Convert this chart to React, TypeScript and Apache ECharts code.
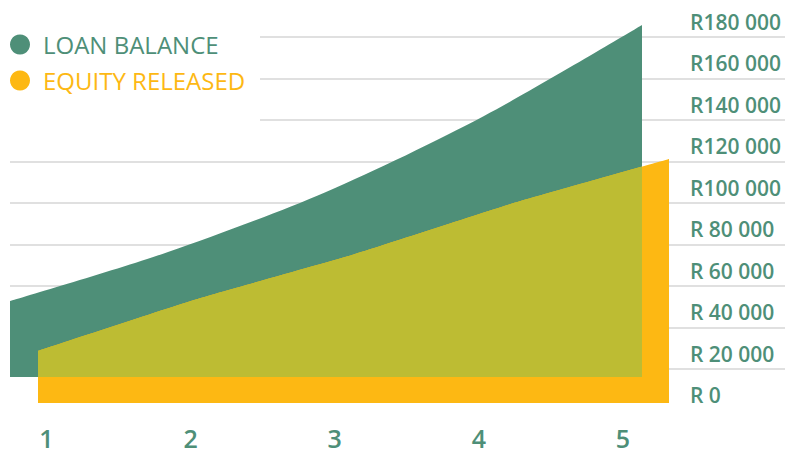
import React, { useEffect, useRef } from "react";
import * as echarts from "echarts";

const years = ["1", "2", "3", "4", "5"];
const loanBalance = [36600, 60200, 89200, 125800, 169600];
const equityReleased = [25100, 49900, 71600, 96000, 117600];
const yTickValues = [0, 20000, 40000, 60000, 80000, 100000, 120000, 140000, 160000, 180000];
const yTickLabels = ["R 0", "R 20 000", "R 40 000", "R 60 000", "R 80 000", "R100 000", "R120 000", "R140 000", "R160 000", "R180 000"];

const GREEN = "#4E8F78";
const YELLOW = "#FDB813";
const OLIVE = "#BDBC33";
const FONT = "Open Sans";

export default function App() {
  const ref = useRef<HTMLDivElement>(null);
  useEffect(() => {
    if (!ref.current) return;
    const chart = echarts.init(ref.current, null, { renderer: "svg" });
    const yMax = 180000;
    const plotH = 373.5;
    const oliveW = 604;
    const yellowW = 631;
    const oliveH = 347.5;
    const oliveMin = yMax * (1 - oliveH / plotH);
    const xPairs = (vals: number[]) => vals.map((v, i) => [Number(years[i]), v]);

    const hiddenX = (gi: number, min = 1, max = 5) => ({ type: "value", gridIndex: gi, min, max, show: false });
    const hiddenY = (gi: number, min: number, max: number) => ({ type: "value", gridIndex: gi, min, max, show: false });

    chart.setOption({
      animation: false,
      grid: [
        { left: 10, top: 377 - plotH, width: 632, height: plotH }, // 0 green
        { left: 38, top: 403 - plotH, width: yellowW, height: plotH }, // 1 yellow
        { left: 38, top: 403 - plotH, width: oliveW, height: oliveH }, // 2 olive overlap
        { left: 600, top: 395 - plotH, width: 90, height: plotH }, // 3 labels
        { left: 10, top: 369 - 207.5, width: 775, height: 207.5 }, // 4 lower gridlines
        { left: 260, top: 37, width: 525, height: 83 }, // 5 upper gridlines
        { left: 46.5, top: 300, width: 576.5, height: 110 }, // 6 x labels
      ],
      xAxis: [
        hiddenX(0),
        hiddenX(1),
        hiddenX(2, 1, 1 + (4 * oliveW) / yellowW),
        { type: "value", gridIndex: 3, show: false },
        { type: "value", gridIndex: 4, show: false },
        { type: "value", gridIndex: 5, show: false },
        {
          type: "category",
          gridIndex: 6,
          data: years,
          boundaryGap: false,
          axisLine: { show: false },
          axisTick: { show: false },
          splitLine: { show: false },
          axisLabel: {
            color: GREEN,
            fontFamily: FONT,
            fontSize: 25,
            fontWeight: 600,
            lineHeight: 25,
            margin: 15.5,
          },
        },
      ],
      yAxis: [
        hiddenY(0, 0, yMax),
        hiddenY(1, 0, yMax),
        hiddenY(2, oliveMin, yMax),
        {
          type: "value",
          gridIndex: 3,
          position: "right",
          min: 0,
          max: yMax,
          interval: 20000,
          axisLine: { show: false },
          axisTick: { show: false },
          splitLine: { show: false },
          axisLabel: {
            margin: 0,
            align: "left",
            color: GREEN,
            fontFamily: FONT,
            fontSize: 21,
            fontWeight: 600,
            formatter: (v: number) => yTickLabels[yTickValues.indexOf(v)] ?? "",
          },
        },
        {
          type: "value",
          gridIndex: 4,
          min: 0,
          max: 100000,
          interval: 20000,
          axisLine: { show: false },
          axisTick: { show: false },
          axisLabel: { show: false },
          splitLine: { show: true, lineStyle: { color: "#D6D6D6", width: 1.5 } },
        },
        {
          type: "value",
          gridIndex: 5,
          min: 120000,
          max: 160000,
          interval: 20000,
          axisLine: { show: false },
          axisTick: { show: false },
          axisLabel: { show: false },
          splitLine: { show: true, lineStyle: { color: "#D6D6D6", width: 1.5 } },
        },
        { type: "value", gridIndex: 6, show: false },
      ],
      legend: {
        left: 10,
        top: 32.5,
        padding: 0,
        orient: "vertical",
        itemWidth: 20,
        itemHeight: 20,
        itemGap: 12,
        icon: "circle",
        selectedMode: false,
        textStyle: { fontFamily: FONT, fontSize: 24, lineHeight: 20, padding: [0, 0, 0, 8] },
        data: [
          { name: "LOAN BALANCE", textStyle: { color: GREEN } },
          { name: "EQUITY RELEASED", textStyle: { color: YELLOW } },
        ],
      },
      series: [
        {
          name: "LOAN BALANCE",
          type: "line",
          xAxisIndex: 0,
          yAxisIndex: 0,
          data: xPairs(loanBalance),
          smooth: 0.3,
          showSymbol: false,
          color: GREEN,
          lineStyle: { width: 0 },
          areaStyle: { color: GREEN, opacity: 1, origin: "start" },
          z: 2,
        },
        {
          name: "EQUITY RELEASED",
          type: "line",
          xAxisIndex: 1,
          yAxisIndex: 1,
          data: xPairs(equityReleased),
          smooth: 0.15,
          showSymbol: false,
          color: YELLOW,
          lineStyle: { width: 0 },
          areaStyle: { color: YELLOW, opacity: 1, origin: "start" },
          z: 3,
        },
        {
          name: "overlap",
          type: "line",
          xAxisIndex: 2,
          yAxisIndex: 2,
          data: xPairs(equityReleased),
          smooth: 0.15,
          showSymbol: false,
          clip: true,
          color: OLIVE,
          lineStyle: { width: 0 },
          areaStyle: { color: OLIVE, opacity: 1, origin: "start" },
          z: 4,
        },
      ],
    });
    return () => chart.dispose();
  }, []);
  return (
    <div
      ref={ref}
      style={{ position: "fixed", left: 0, top: 0, width: 792, height: 454, background: "#fff" }}
    />
  );
}
